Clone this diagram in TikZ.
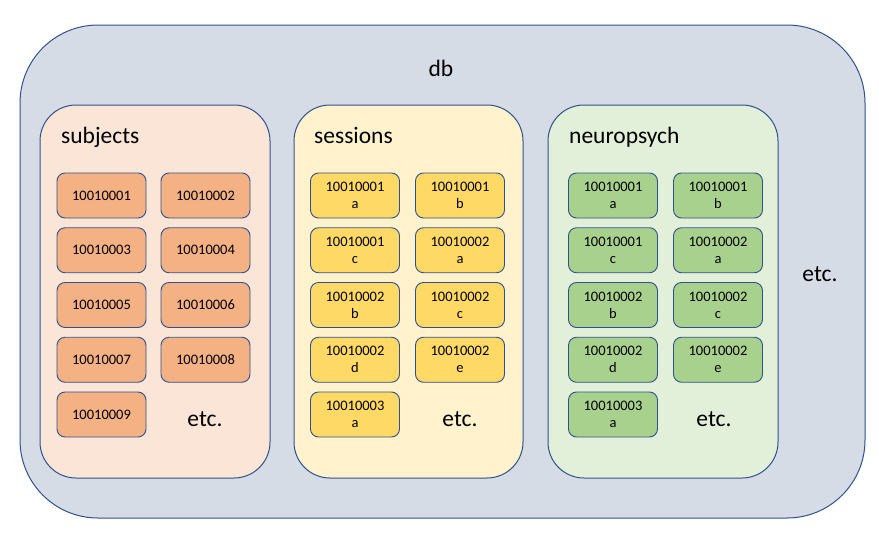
\documentclass[tikz,border=0pt]{standalone}
\usepackage{fontspec}
\setmainfont{Carlito}
\definecolor{bordc}{HTML}{2F528F}
\definecolor{dbfill}{HTML}{D6DCE5}
\definecolor{subfill}{HTML}{FBE5D6}
\definecolor{subnode}{HTML}{F4B183}
\definecolor{sesfill}{HTML}{FFF2CC}
\definecolor{sesnode}{HTML}{FFD966}
\definecolor{neufill}{HTML}{E2F0D9}
\definecolor{neunode}{HTML}{A9D18E}
\tikzset{
  container/.style={draw=bordc, line width=1pt, rounded corners=36pt},
  item/.style={draw=bordc, line width=0.9pt, rounded corners=8pt, minimum width=89pt, minimum height=45pt, inner sep=0pt, align=center, font=\fontsize{14.5}{17}\selectfont},
  big/.style={font=\fontsize{23.5}{28}\selectfont, inner sep=0pt, anchor=base},
}
\begin{document}
\begin{tikzpicture}[x=1pt,y=-1pt]
\useasboundingbox (0,0) rectangle (879,536);
\path[fill=white] (0,0) rectangle (879,536);
\draw[draw=bordc, line width=1pt, fill=dbfill, rounded corners=78pt] (20,25) rectangle (865,518);
\node[big] (db) at (441,76) {db};
\node[big] (etcdb) at (820,281) {etc.};
% containers
\draw[container, fill=subfill] (40,105) rectangle (270,478);
\draw[container, fill=sesfill] (294,105) rectangle (523,478);
\draw[container, fill=neufill] (548,105) rectangle (778,478);
\node[big, anchor=base west] (subl) at (61,143) {subjects};
\node[big, anchor=base west] (sesl) at (314,143) {sessions};
\node[big, anchor=base west] (neul) at (569,143) {neuropsych};
% subjects
\foreach \t [count=\i from 0] in {10010001,10010002,10010003,10010004,10010005,10010006,10010007,10010008,10010009}{
  \pgfmathtruncatemacro{\c}{mod(\i,2)}
  \pgfmathtruncatemacro{\r}{div(\i,2)}
  \node[item, fill=subnode] (s\i) at ({101.5+104*\c},{195.5+54.75*\r}) {\t};
}
\node[big] (etcs) at (205,426) {etc.};
% sessions and neuropsych
\foreach \t/\u [count=\i from 0] in {10010001/a,10010001/b,10010001/c,10010002/a,10010002/b,10010002/c,10010002/d,10010002/e,10010003/a}{
  \pgfmathtruncatemacro{\c}{mod(\i,2)}
  \pgfmathtruncatemacro{\r}{div(\i,2)}
  \node[item, fill=sesnode] (e\i) at ({355+105*\c},{195.5+54.75*\r}) {\t\\\u};
  \node[item, fill=neunode] (n\i) at ({613+105*\c},{195.5+54.75*\r}) {\t\\\u};
}
\node[big] (etce) at (460,426) {etc.};
\node[big] (etcn) at (714,426) {etc.};
\end{tikzpicture}
\end{document}
